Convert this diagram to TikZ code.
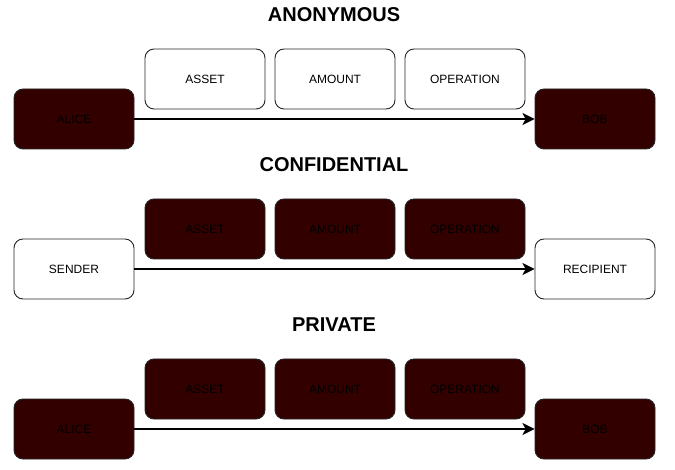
\documentclass[tikz,border=0pt]{standalone}
\usepackage{fontspec}
\setmainfont{Liberation Sans}
\usetikzlibrary{arrows.meta}
\definecolor{darkred}{HTML}{330000}
\tikzset{
  box/.style={draw=black!85, line width=0.9pt, rounded corners=9pt, minimum width=120pt, minimum height=60pt, inner sep=0pt, font=\fontsize{12}{14}\selectfont, text=black, anchor=center},
  lightbox/.style={box, fill=white},
  darkbox/.style={box, fill=darkred},
  title/.style={font=\fontsize{20}{24}\selectfont\bfseries, text=black},
  flow/.style={line width=2.8pt, -{Stealth[length=12pt,width=12pt,inset=3pt]}}
}
\begin{document}
\begin{tikzpicture}[x=1pt,y=-1pt]
\useasboundingbox (0,0) rectangle (675,470);
% Row 1
\node[title] (t1) at (334,15) {ANONYMOUS};
\node[lightbox] (asset1) at (205,79) {ASSET};
\node[lightbox] (amount1) at (335,79) {AMOUNT};
\node[lightbox] (op1) at (465,79) {OPERATION};
\node[darkbox] (alice1) at (74,119) {ALICE};
\node[darkbox] (bob1) at (595,119) {BOB};
\draw[flow] (alice1.east) -- (bob1.west);
% Row 2
\node[title] (t2) at (334,165) {CONFIDENTIAL};
\node[darkbox] (asset2) at (205,229) {ASSET};
\node[darkbox] (amount2) at (335,229) {AMOUNT};
\node[darkbox] (op2) at (465,229) {OPERATION};
\node[lightbox] (sender) at (74,269) {SENDER};
\node[lightbox] (recipient) at (595,269) {RECIPIENT};
\draw[flow] (sender.east) -- (recipient.west);
% Row 3
\node[title] (t3) at (334,325) {PRIVATE};
\node[darkbox] (asset3) at (205,389) {ASSET};
\node[darkbox] (amount3) at (335,389) {AMOUNT};
\node[darkbox] (op3) at (465,389) {OPERATION};
\node[darkbox] (alice3) at (74,429) {ALICE};
\node[darkbox] (bob3) at (595,429) {BOB};
\draw[flow] (alice3.east) -- (bob3.west);
\end{tikzpicture}
\end{document}
